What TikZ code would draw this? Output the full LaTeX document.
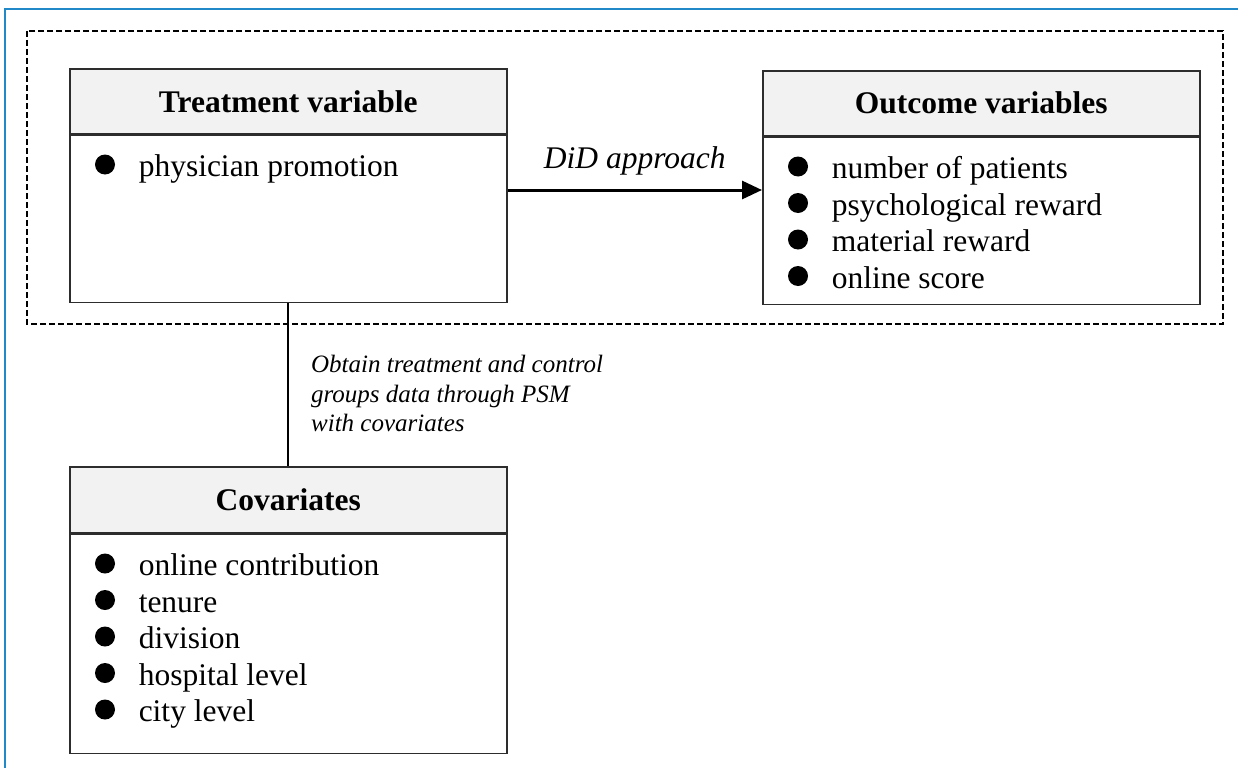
\documentclass[tikz,border=0pt]{standalone}
\usepackage{fontspec}
\setmainfont{Liberation Serif}
\usetikzlibrary{positioning, arrows.meta}

\definecolor{frameblue}{RGB}{33,137,200}
\definecolor{headgray}{RGB}{242,242,242}
\definecolor{boxline}{RGB}{45,45,45}

\newcommand{\itemgap}{\hspace*{43pt}}
\newcommand{\itembox}[2]{\parbox[c][#1][t]{437pt}{\raggedright\leftskip=26pt\fontsize{31.5}{36.5}\selectfont\vspace*{16pt}\strut #2}}

\begin{document}
\begin{tikzpicture}[x=1pt, y=-1pt,
    headbox/.style={draw=boxline, line width=1.5pt, fill=headgray, minimum width=437pt,
      minimum height=65pt, inner sep=0pt, font=\bfseries\fontsize{31.5}{36}\selectfont},
    bodybox/.style={draw=boxline, line width=1.5pt, inner sep=0pt},
    edgelabel/.style={inner sep=0pt, font=\itshape}]
    \useasboundingbox (0,0) rectangle (1238,768);
    \draw[frameblue, line width=2pt] (5,768) -- (5,9) -- (1238,9);
    \draw[line width=1.8pt, dash pattern=on 6pt off 3pt] (27,31) rectangle (1223,324);

    \node[headbox, anchor=north west] (treathead) at (69,68) {Treatment variable};
    \node[bodybox, below=0pt of treathead] (treatbody) {\itembox{167pt}{\itemgap physician promotion}};

    \node[headbox, anchor=north west] (outhead) at (762,70) {Outcome variables};
    \node[bodybox, below=0pt of outhead] (outbody) {\itembox{167pt}{\itemgap number of patients\\
        \itemgap psychological reward\\
        \itemgap material reward\\
        \itemgap online score}};

    \node[headbox, anchor=north west, minimum height=66pt] (covhead) at (69,466) {Covariates};
    \node[bodybox, below=0pt of covhead] (covbody) {\itembox{219pt}{\itemgap online contribution\\
        \itemgap tenure\\
        \itemgap division\\
        \itemgap hospital level\\
        \itemgap city level}};

    % bullets
    \foreach \bodyname/\n in {treatbody/1, outbody/4, covbody/5}
        \foreach \i in {1,...,\n}
            \fill ([xshift=36pt, yshift={-30pt-36.5pt*(\i-1)}]\bodyname.north west) circle (10pt);

    \coordinate (arrowy) at (0,190);
    \draw[-{Triangle[length=20pt,width=18pt]}, line width=3pt] (treatbody.east |- arrowy) -- (outbody.west |- arrowy)
        node[edgelabel, midway, above=13pt, font=\itshape\fontsize{31.5}{36}\selectfont] (didlabel) {DiD approach};
    \draw[line width=1.8pt] (treatbody.south) -- (covhead.north)
        node[edgelabel, midway, anchor=west, xshift=22pt, yshift=-9pt, align=left,
          font=\itshape\fontsize{25}{29.5}\selectfont] (psmlabel) {Obtain treatment and control\\
        groups data through PSM\\
        with covariates};
\end{tikzpicture}
\end{document}
